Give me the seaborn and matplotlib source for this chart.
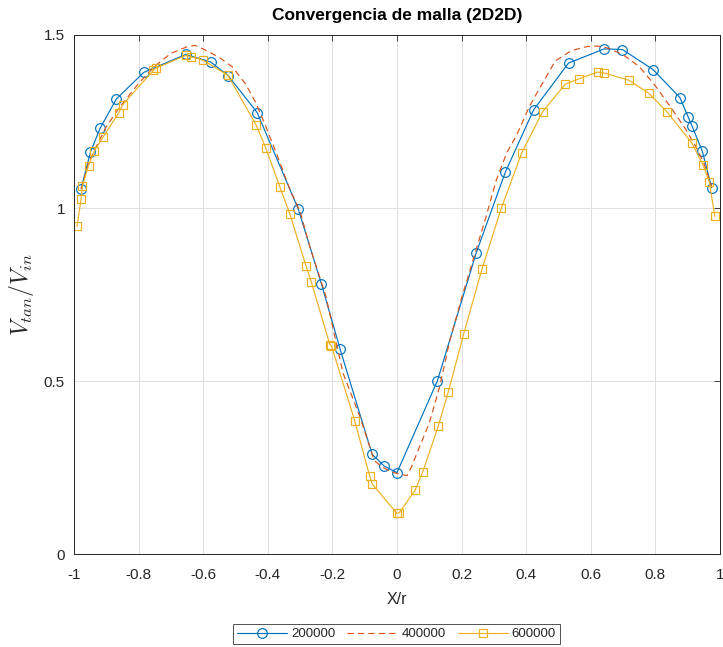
import matplotlib
matplotlib.use("Agg")
import matplotlib.pyplot as plt
import seaborn as sns
import pandas as pd

# ---------------- data ----------------
series_labels = ["200000", "400000", "600000"]

x_200k = [-0.978, -0.949, -0.919, -0.869, -0.784, -0.654, -0.577, -0.523, -0.433,
          -0.306, -0.234, -0.176, -0.077, -0.040, 0.0, 0.125, 0.245, 0.335, 0.423,
          0.531, 0.642, 0.698, 0.793, 0.876, 0.902, 0.913, 0.945, 0.974]
y_200k = [1.056, 1.162, 1.231, 1.315, 1.392, 1.444, 1.422, 1.383, 1.276,
          0.998, 0.781, 0.592, 0.289, 0.255, 0.236, 0.501, 0.870, 1.103, 1.284,
          1.419, 1.460, 1.458, 1.400, 1.319, 1.262, 1.238, 1.165, 1.059]

x_400k = [-0.978, -0.955, -0.930, -0.900, -0.860, -0.800, -0.750, -0.700, -0.650,
          -0.625, -0.590, -0.550, -0.510, -0.470, -0.440, -0.410, -0.370, -0.330,
          -0.300, -0.270, -0.220, -0.167, -0.115, -0.070, -0.045, -0.020, 0.008,
          0.031, 0.045, 0.070, 0.100, 0.132, 0.163, 0.200, 0.245, 0.276, 0.307,
          0.340, 0.370, 0.410, 0.450, 0.490, 0.540, 0.590, 0.620, 0.650, 0.700,
          0.750, 0.800, 0.853, 0.895, 0.925, 0.950, 0.975]
y_400k = [1.055, 1.130, 1.180, 1.235, 1.290, 1.360, 1.410, 1.447, 1.466,
          1.470, 1.455, 1.435, 1.408, 1.360, 1.310, 1.245, 1.150, 1.050,
          0.990, 0.889, 0.745, 0.523, 0.398, 0.270, 0.252, 0.238, 0.232,
          0.227, 0.253, 0.311, 0.379, 0.484, 0.615, 0.740, 0.880, 0.976, 1.080,
          1.160, 1.210, 1.294, 1.360, 1.425, 1.455, 1.467, 1.468, 1.463, 1.443,
          1.409, 1.353, 1.284, 1.226, 1.178, 1.130, 1.060]

x_600k = [-0.991, -0.978, -0.974, -0.955, -0.937, -0.911, -0.862, -0.849, -0.754,
          -0.747, -0.654, -0.637, -0.600, -0.524, -0.436, -0.406, -0.363, -0.332,
          -0.282, -0.265, -0.208, -0.203, -0.131, -0.085, -0.076, 0.000, 0.007,
          0.056, 0.080, 0.128, 0.159, 0.206, 0.263, 0.323, 0.386, 0.451, 0.521,
          0.565, 0.621, 0.642, 0.719, 0.779, 0.835, 0.913, 0.948, 0.967, 0.984]
y_600k = [0.947, 1.026, 1.063, 1.123, 1.165, 1.204, 1.274, 1.299, 1.398,
          1.404, 1.441, 1.437, 1.427, 1.384, 1.240, 1.173, 1.062, 0.984,
          0.834, 0.786, 0.606, 0.602, 0.386, 0.227, 0.202, 0.118, 0.120,
          0.185, 0.239, 0.371, 0.470, 0.635, 0.824, 1.000, 1.159, 1.279, 1.358,
          1.374, 1.393, 1.390, 1.369, 1.332, 1.279, 1.188, 1.124, 1.075, 0.976]

x_ticks = [-1, -0.8, -0.6, -0.4, -0.2, 0, 0.2, 0.4, 0.6, 0.8, 1]
x_tick_labels = ["-1", "-0.8", "-0.6", "-0.4", "-0.2", "0", "0.2", "0.4", "0.6", "0.8", "1"]
y_ticks = [0, 0.5, 1, 1.5]
y_tick_labels = ["0", "0.5", "1", "1.5"]

title = "Convergencia de malla (2D2D)"
x_label = "X/r"
y_label = r"$V_{tan}/V_{in}$"

# ---------------- style ----------------
sns.set_theme(style="white")
plt.rcParams['font.family'] = ['Liberation Sans', 'DejaVu Sans']
plt.rcParams['mathtext.fontset'] = 'cm'
plt.rcParams['axes.unicode_minus'] = False
plt.rcParams['lines.scale_dashes'] = False

c_blue = "#0072BD"
c_red = "#D95319"
c_yellow = "#EDB120"
axis_col = "#262626"

fig = plt.figure(figsize=(7.23, 6.47), dpi=100)
ax = fig.add_axes([74 / 723, 1 - 554.3 / 647, (720 - 74) / 723, (554.3 - 35) / 647])

sns.lineplot(x=x_200k, y=y_200k, ax=ax, sort=False, estimator=None, color=c_blue,
             linewidth=0.85, marker='o', markersize=7, markerfacecolor='none',
             markeredgecolor=c_blue, markeredgewidth=0.85, label=series_labels[0])
sns.lineplot(x=x_400k, y=y_400k, ax=ax, sort=False, estimator=None, color=c_red,
             linewidth=0.85, linestyle=(0, (4.5, 3.0)), label=series_labels[1])
sns.lineplot(x=x_600k, y=y_600k, ax=ax, sort=False, estimator=None, color=c_yellow,
             linewidth=0.85, marker='s', markersize=6, markerfacecolor='none',
             markeredgecolor=c_yellow, markeredgewidth=0.85, label=series_labels[2])

ax.set_xlim(-1, 1)
ax.set_ylim(0, 1.5)
ax.set_xticks(x_ticks)
ax.set_xticklabels(x_tick_labels)
ax.set_yticks(y_ticks)
ax.set_yticklabels(y_tick_labels)
ax.grid(True, color="#e0e0e0", linewidth=0.7)
ax.set_axisbelow(True)
for s in ax.spines.values():
    s.set_color(axis_col)
    s.set_linewidth(0.7)
ax.tick_params(direction='in', length=4.5, width=0.6, colors=axis_col,
               labelsize=11, top=True, right=True, labelcolor=axis_col)
ax.tick_params(axis='x', pad=10)
ax.tick_params(axis='y', pad=6.5)

ax.set_title(title, fontsize=12.5, fontweight='bold', color='black', pad=11)
ax.set_xlabel(x_label, fontsize=11.5, color=axis_col, labelpad=7)
ax.set_ylabel(y_label, fontsize=17, color=axis_col, labelpad=6)

leg = ax.legend(loc='upper center', bbox_to_anchor=(396.5 / 723, 1 - 624 / 647),
                bbox_transform=fig.transFigure, ncol=3, fontsize=9.5, frameon=True,
                fancybox=False, edgecolor=axis_col, handlelength=3.8,
                handletextpad=0.3, columnspacing=0.9, borderpad=0.3,
                borderaxespad=0)
leg.get_frame().set_linewidth(0.7)

fig.savefig("out.png", dpi=100)
